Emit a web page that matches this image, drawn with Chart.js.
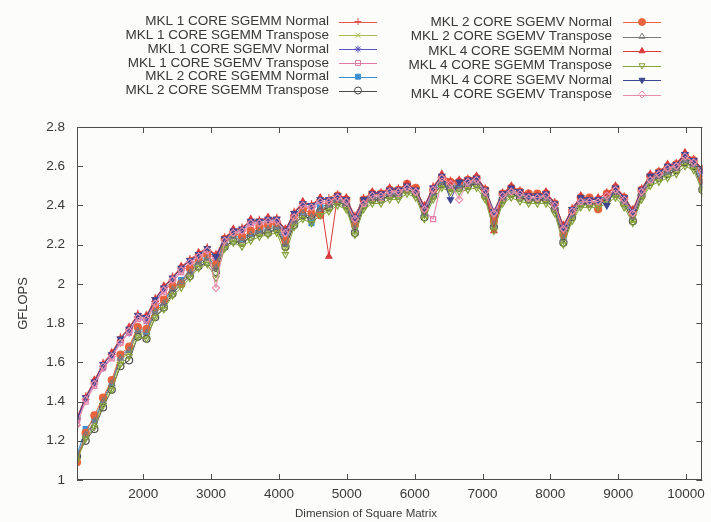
<!DOCTYPE html>
<html>
<head>
<meta charset="utf-8">
<title>MKL SGEMM / SGEMV performance</title>
<script src="https://cdn.jsdelivr.net/npm/chart.js"></script>
<style>
  html, body { margin: 0; padding: 0; background: #fcfcfb; }
  #wrap { width: 711px; height: 522px; position: relative; }
  canvas { display: block; }
</style>
</head>
<body>
<div id="wrap"><canvas id="c" width="711" height="522"></canvas></div>
<script>
// Matrix dimensions: 1024 .. 10240 in steps of 128
const dims = [
  1024,1152,1280,1408,1536,1664,1792,1920,2048,2176,
  2304,2432,2560,2688,2816,2944,3072,3200,3328,3456,
  3584,3712,3840,3968,4096,4224,4352,4480,4608,4736,
  4864,4992,5120,5248,5376,5504,5632,5760,5888,6016,
  6144,6272,6400,6528,6656,6784,6912,7040,7168,7296,
  7424,7552,7680,7808,7936,8064,8192,8320,8448,8576,
  8704,8832,8960,9088,9216,9344,9472,9600,9728,9856,
  9984,10112,10240
];

const xTicks = [2000,3000,4000,5000,6000,7000,8000,9000,10000];
const yTicks = [1,1.2,1.4,1.6,1.8,2,2.2,2.4,2.6,2.8];

const seriesNames = [
  'MKL 1 CORE SGEMM Normal',
  'MKL 1 CORE SGEMM Transpose',
  'MKL 1 CORE SGEMV Normal',
  'MKL 1 CORE SGEMV Transpose',
  'MKL 2 CORE SGEMM Normal',
  'MKL 2 CORE SGEMM Transpose',
  'MKL 2 CORE SGEMV Normal',
  'MKL 2 CORE SGEMV Transpose',
  'MKL 4 CORE SGEMM Normal',
  'MKL 4 CORE SGEMM Transpose',
  'MKL 4 CORE SGEMV Normal',
  'MKL 4 CORE SGEMV Transpose'
];

// GFLOPS per matrix dimension
const mkl1SgemmNormal = [
  1.31,1.43,1.50,1.60,1.64,1.73,1.77,1.85,1.83,1.93,
  1.98,2.04,2.08,2.13,2.15,2.19,2.14,2.24,2.27,2.29,
  2.32,2.33,2.33,2.34,2.27,2.37,2.41,2.41,2.43,2.44,
  2.46,2.43,2.35,2.44,2.46,2.47,2.48,2.49,2.50,2.49,
  2.39,2.50,2.55,2.53,2.52,2.54,2.54,2.49,2.37,2.47,
  2.49,2.48,2.45,2.46,2.46,2.42,2.29,2.39,2.44,2.44,
  2.43,2.47,2.49,2.45,2.37,2.49,2.55,2.58,2.60,2.62,
  2.66,2.64,2.58
];
const mkl1SgemmTranspose = [
  1.11,1.23,1.29,1.39,1.48,1.61,1.65,1.75,1.74,1.85,
  1.89,1.96,2.00,2.05,2.10,2.12,2.07,2.19,2.22,2.20,
  2.24,2.25,2.27,2.27,2.18,2.31,2.34,2.33,2.36,2.38,
  2.41,2.39,2.27,2.39,2.42,2.43,2.44,2.45,2.47,2.45,
  2.35,2.45,2.50,2.48,2.49,2.49,2.51,2.44,2.29,2.42,
  2.45,2.44,2.42,2.43,2.42,2.38,2.22,2.33,2.40,2.41,
  2.40,2.43,2.45,2.41,2.32,2.44,2.51,2.54,2.55,2.58,
  2.61,2.60,2.49
];
const mkl1SgemvNormal = [
  1.30,1.41,1.49,1.57,1.63,1.71,1.75,1.83,1.81,1.91,
  1.97,2.02,2.07,2.11,2.14,2.17,2.13,2.22,2.26,2.27,
  2.31,2.31,2.32,2.32,2.26,2.35,2.40,2.39,2.42,2.42,
  2.44,2.42,2.33,2.42,2.45,2.45,2.47,2.47,2.49,2.47,
  2.38,2.48,2.54,2.51,2.51,2.52,2.53,2.47,2.36,2.45,
  2.48,2.46,2.44,2.44,2.45,2.40,2.28,2.37,2.43,2.42,
  2.42,2.45,2.48,2.43,2.36,2.47,2.54,2.56,2.59,2.60,
  2.65,2.62,2.57
];
const mkl1SgemvTranspose = [
  1.29,1.40,1.48,1.57,1.62,1.70,1.75,1.82,1.81,1.90,
  1.96,2.01,2.06,2.10,2.13,2.16,2.12,2.21,2.25,2.26,
  2.30,2.30,2.31,2.31,2.25,2.34,2.39,2.38,2.41,2.41,
  2.43,2.41,2.32,2.41,2.44,2.44,2.46,2.46,2.48,2.46,
  2.37,2.33,2.53,2.50,2.50,2.51,2.52,2.46,2.35,2.44,
  2.47,2.45,2.43,2.43,2.44,2.39,2.27,2.36,2.42,2.41,
  2.41,2.44,2.47,2.42,2.35,2.46,2.53,2.55,2.58,2.59,
  2.64,2.61,2.56
];
const mkl2SgemmNormal = [
  1.13,1.26,1.31,1.41,1.50,1.63,1.67,1.77,1.76,1.87,
  1.91,1.98,2.02,2.07,2.12,2.14,2.09,2.22,2.25,2.23,
  2.26,2.28,2.29,2.30,2.21,2.33,2.37,2.31,2.39,2.41,
  2.44,2.42,2.29,2.42,2.45,2.45,2.47,2.47,2.50,2.48,
  2.37,2.47,2.53,2.51,2.51,2.52,2.53,2.47,2.31,2.45,
  2.48,2.46,2.45,2.45,2.45,2.40,2.24,2.36,2.43,2.43,
  2.43,2.45,2.48,2.43,2.35,2.47,2.54,2.56,2.58,2.60,
  2.64,2.62,2.52
];
const mkl2SgemmTranspose = [
  1.12,1.20,1.26,1.37,1.46,1.58,1.61,1.73,1.72,1.83,
  1.88,1.95,2.00,2.04,2.09,2.11,2.06,2.19,2.22,2.21,
  2.24,2.26,2.26,2.28,2.19,2.30,2.35,2.33,2.37,2.39,
  2.42,2.40,2.26,2.40,2.43,2.43,2.45,2.45,2.48,2.46,
  2.34,2.45,2.51,2.49,2.49,2.50,2.51,2.45,2.29,2.43,
  2.46,2.44,2.43,2.43,2.43,2.38,2.21,2.34,2.41,2.41,
  2.41,2.43,2.46,2.41,2.32,2.45,2.52,2.54,2.56,2.58,
  2.62,2.60,2.48
];
const mkl2SgemvNormal = [
  1.09,1.24,1.33,1.42,1.51,1.64,1.68,1.78,1.77,1.88,
  1.92,1.99,2.00,2.08,2.13,2.15,2.10,2.23,2.26,2.24,
  2.27,2.29,2.30,2.31,2.22,2.34,2.38,2.36,2.35,2.42,
  2.45,2.43,2.30,2.43,2.46,2.46,2.48,2.48,2.51,2.49,
  2.38,2.48,2.54,2.52,2.52,2.53,2.54,2.48,2.32,2.46,
  2.49,2.47,2.46,2.46,2.46,2.41,2.25,2.37,2.44,2.44,
  2.38,2.46,2.49,2.44,2.36,2.48,2.55,2.57,2.59,2.61,
  2.65,2.63,2.53
];
const mkl2SgemvTranspose = [
  1.12,1.23,1.30,1.40,1.49,1.62,1.66,1.76,1.75,1.86,
  1.90,1.97,2.01,2.06,2.11,2.13,2.08,2.21,2.24,2.22,
  2.25,2.27,2.28,2.29,2.20,2.32,2.36,2.34,2.38,2.40,
  2.43,2.41,2.28,2.41,2.44,2.44,2.46,2.46,2.49,2.47,
  2.36,2.46,2.52,2.50,2.50,2.51,2.52,2.46,2.30,2.44,
  2.47,2.45,2.44,2.44,2.44,2.39,2.23,2.35,2.42,2.42,
  2.42,2.44,2.47,2.42,2.34,2.46,2.53,2.55,2.57,2.59,
  2.63,2.61,2.50
];
const mkl4SgemmNormal = [
  1.32,1.42,1.51,1.59,1.65,1.72,1.78,1.84,1.84,1.92,
  1.99,2.03,2.09,2.12,2.16,2.18,2.15,2.23,2.28,2.28,
  2.33,2.32,2.34,2.33,2.28,2.36,2.42,2.40,2.44,2.14,
  2.45,2.44,2.34,2.43,2.47,2.46,2.49,2.48,2.51,2.48,
  2.40,2.49,2.56,2.52,2.53,2.53,2.55,2.48,2.27,2.46,
  2.50,2.47,2.46,2.45,2.47,2.41,2.30,2.38,2.45,2.43,
  2.44,2.46,2.50,2.44,2.38,2.48,2.56,2.57,2.61,2.61,
  2.67,2.63,2.59
];
const mkl4SgemmTranspose = [
  1.10,1.21,1.27,1.38,1.46,1.59,1.63,1.73,1.72,1.83,
  1.87,1.94,1.98,2.03,2.08,2.10,2.03,2.18,2.21,2.19,
  2.22,2.24,2.25,2.26,2.15,2.29,2.33,2.31,2.35,2.37,
  2.40,2.38,2.25,2.38,2.41,2.41,2.43,2.43,2.46,2.44,
  2.33,2.43,2.49,2.47,2.47,2.48,2.49,2.43,2.27,2.41,
  2.44,2.42,2.41,2.41,2.41,2.36,2.20,2.32,2.39,2.39,
  2.39,2.41,2.44,2.39,2.31,2.43,2.50,2.52,2.54,2.56,
  2.60,2.58,2.47
];
const mkl4SgemvNormal = [
  1.31,1.42,1.50,1.59,1.64,1.72,1.77,1.84,1.83,1.92,
  1.98,2.03,2.08,2.12,2.15,2.18,2.14,2.23,2.27,2.28,
  2.32,2.32,2.33,2.33,2.27,2.36,2.41,2.40,2.43,2.43,
  2.45,2.43,2.34,2.43,2.46,2.46,2.48,2.48,2.50,2.48,
  2.39,2.49,2.55,2.43,2.52,2.53,2.54,2.48,2.37,2.46,
  2.49,2.47,2.45,2.45,2.46,2.41,2.29,2.38,2.44,2.43,
  2.43,2.40,2.49,2.44,2.37,2.48,2.55,2.57,2.60,2.61,
  2.66,2.63,2.58
];
const mkl4SgemvTranspose = [
  1.28,1.41,1.49,1.58,1.63,1.70,1.76,1.83,1.82,1.90,
  1.97,2.02,2.07,2.11,2.14,2.17,1.98,2.22,2.26,2.27,
  2.31,2.31,2.32,2.32,2.26,2.34,2.40,2.39,2.42,2.42,
  2.44,2.42,2.33,2.41,2.45,2.45,2.47,2.47,2.49,2.47,
  2.38,2.48,2.54,2.51,2.43,2.52,2.53,2.47,2.36,2.45,
  2.47,2.46,2.44,2.44,2.45,2.40,2.28,2.37,2.42,2.42,
  2.42,2.45,2.48,2.43,2.36,2.47,2.53,2.56,2.59,2.60,
  2.65,2.62,2.57
];

const seriesValues = [
  mkl1SgemmNormal, mkl1SgemmTranspose, mkl1SgemvNormal, mkl1SgemvTranspose,
  mkl2SgemmNormal, mkl2SgemmTranspose, mkl2SgemvNormal, mkl2SgemvTranspose,
  mkl4SgemmNormal, mkl4SgemmTranspose, mkl4SgemvNormal, mkl4SgemvTranspose
];

// Line colour, marker shape, filled?, rotation
const seriesStyles = [
  { color: '#e2594f', shape: 'cross',    filled: false, rot: 0 },
  { color: '#a9be4e', shape: 'crossRot', filled: false, rot: 0 },
  { color: '#5a56bf', shape: 'star',     filled: false, rot: 0 },
  { color: '#e27aa6', shape: 'rect',     filled: false, rot: 0 },
  { color: '#3d8fd1', shape: 'rect',     filled: true,  rot: 0 },
  { color: '#4a4a4a', shape: 'circle',   filled: false, rot: 0 },
  { color: '#e8643c', shape: 'circle',   filled: true,  rot: 0 },
  { color: '#7a7a7a', shape: 'triangle', filled: false, rot: 0 },
  { color: '#d93a3a', shape: 'triangle', filled: true,  rot: 0 },
  { color: '#86a23c', shape: 'triangle', filled: false, rot: 180 },
  { color: '#3d4690', shape: 'triangle', filled: true,  rot: 180 },
  { color: '#e68eab', shape: 'rectRot',  filled: false, rot: 0 }
];

const FONT = '"Liberation Sans", Arial, Helvetica, sans-serif';
const TEXT = '#383838';
const AXIS = '#4d4d4d';

const datasets = seriesValues.map((vals, i) => {
  const s = seriesStyles[i];
  return {
    label: seriesNames[i],
    data: vals.map((v, k) => ({ x: dims[k], y: v })),
    borderColor: s.color,
    backgroundColor: s.filled ? s.color : 'rgba(0,0,0,0)',
    borderWidth: 1,
    pointStyle: s.shape,
    pointRotation: s.rot,
    pointRadius: 3.5,
    pointBorderWidth: 1.2,
    pointBorderColor: s.color,
    pointBackgroundColor: s.filled ? s.color : 'rgba(0,0,0,0)',
    tension: 0,
    order: seriesValues.length - i
  };
});

// Frame, inward ticks on all four sides, axis titles and the key
const gnuplotDecor = {
  id: 'gnuplotDecor',
  afterDraw(chart) {
    const ctx = chart.ctx;
    const a = chart.chartArea;
    const xs = chart.scales.x, ys = chart.scales.y;
    ctx.save();
    ctx.strokeStyle = AXIS;
    ctx.lineWidth = 1;
    ctx.strokeRect(Math.round(a.left) + 0.5, Math.round(a.top) + 0.5,
                   Math.round(a.right - a.left) - 1, Math.round(a.bottom - a.top) - 1);
    const tl = 6;
    ctx.beginPath();
    xTicks.forEach(v => {
      const px = Math.round(xs.getPixelForValue(v)) + 0.5;
      ctx.moveTo(px, a.bottom); ctx.lineTo(px, a.bottom - tl);
      ctx.moveTo(px, a.top); ctx.lineTo(px, a.top + tl);
    });
    yTicks.forEach(v => {
      const py = Math.round(ys.getPixelForValue(v)) + 0.5;
      ctx.moveTo(a.left, py); ctx.lineTo(a.left + tl, py);
      ctx.moveTo(a.right, py); ctx.lineTo(a.right - tl, py);
    });
    ctx.stroke();

    // axis titles
    ctx.fillStyle = TEXT;
    ctx.font = '11.5px ' + FONT;
    ctx.textAlign = 'center';
    ctx.textBaseline = 'middle';
    ctx.fillText('Dimension of Square Matrix', 366, 514);
    ctx.save();
    ctx.translate(23, (a.top + a.bottom) / 2);
    ctx.rotate(-Math.PI / 2);
    ctx.font = '13px ' + FONT;
    ctx.fillText('GFLOPS', 0, 0);
    ctx.restore();

    // key: two columns of six entries
    ctx.font = '13.5px ' + FONT;
    ctx.textBaseline = 'middle';
    chart.data.datasets.forEach((ds, i) => {
      const col = i < 6 ? 0 : 1;
      const row = i % 6;
      const textRight = col ? 612 : 329;
      const mx = col ? 642 : 358;
      const y = col ? 22 + row * 14.5 : 21.5 + row * 13.8;
      ctx.fillStyle = TEXT;
      ctx.textAlign = 'right';
      ctx.fillText(ds.label, textRight, y);
      ctx.strokeStyle = ds.borderColor;
      ctx.lineWidth = 1;
      ctx.beginPath();
      ctx.moveTo(mx - 19, Math.round(y) + 0.5);
      ctx.lineTo(mx + 19, Math.round(y) + 0.5);
      ctx.stroke();
      ctx.fillStyle = ds.pointBackgroundColor;
      Chart.helpers.drawPoint(ctx, {
        pointStyle: ds.pointStyle,
        rotation: ds.pointRotation,
        radius: 3.5,
        borderWidth: 1.2
      }, mx, y);
    });
    ctx.restore();
  }
};

new Chart(document.getElementById('c'), {
  type: 'line',
  data: { datasets },
  options: {
    responsive: false,
    animation: false,
    events: [],
    layout: { padding: { left: 0, top: 127, right: 6, bottom: 0 } },
    plugins: { legend: { display: false }, tooltip: { enabled: false } },
    scales: {
      x: {
        type: 'linear',
        min: 1024,
        max: 10240,
        grid: { display: false, drawTicks: false },
        border: { display: false },
        afterBuildTicks: s => { s.ticks = xTicks.map(v => ({ value: v })); },
        afterFit: s => { s.height = 42; },
        ticks: {
          autoSkip: false,
          maxRotation: 0,
          padding: 6,
          color: TEXT,
          font: { family: FONT, size: 13.5 },
          callback: v => String(v)
        }
      },
      y: {
        type: 'linear',
        min: 1,
        max: 2.8,
        grid: { display: false, drawTicks: false },
        border: { display: false },
        afterBuildTicks: s => { s.ticks = yTicks.map(v => ({ value: v })); },
        afterFit: s => { s.width = 77; },
        ticks: {
          autoSkip: false,
          padding: 12,
          color: TEXT,
          font: { family: FONT, size: 13.5 },
          callback: v => String(Number(v.toFixed(1)))
        }
      }
    }
  },
  plugins: [gnuplotDecor]
});
</script>
</body>
</html>
